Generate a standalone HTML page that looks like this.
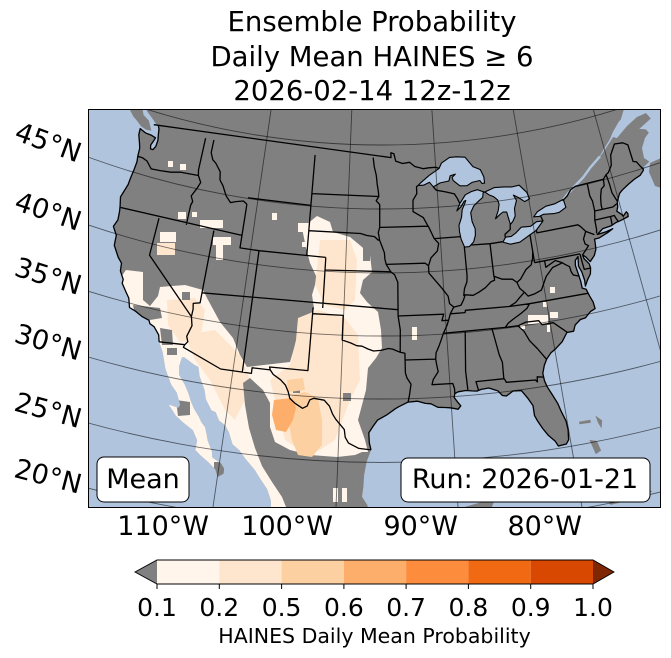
<!DOCTYPE html>
<html><head><meta charset="utf-8"><style>
html,body{margin:0;padding:0;background:#fff;}
svg{display:block;font-family:"DejaVu Sans","Liberation Sans",sans-serif;}
</style></head><body>
<svg width="671" height="658" viewBox="0 0 671 658" xmlns="http://www.w3.org/2000/svg">
<defs>
<clipPath id="ax"><rect x="88" y="109" width="573" height="399"/></clipPath>
<clipPath id="landc"><path id="landclip" d=""/></clipPath>
</defs>
<!-- title -->
<g font-size="27.5" text-anchor="middle" fill="#000">
<text x="372" y="31">Ensemble Probability</text>
<text x="372" y="66">Daily Mean HAINES ≥ 6</text>
<text x="372" y="100">2026-02-14 12z-12z</text>
</g>
<g clip-path="url(#ax)">
<rect x="88" y="109" width="573" height="399" fill="#b0c4de"/>
<path id="land" d="" fill="#808080"/>
<polygon fill="#b0c4de" points="624,109 661,109 661,160 650,162 644,158 642,148 645,138 650,131 652,120 646,113 637,117 627,126 617,138 613,137 620,122"/>
<polygon fill="#808080" points="650,163 661,158 661,188 655,186 649,172"/>
<g clip-path="url(#landc)">
 <polygon fill="#fff5eb" points="100,300 110,292 126,270 143,272 143,300 150,306 158,296 160,287 185,285 203,290 207,298 220,322 233,338 240,355 247,367 290,362 295,345 300,333 310,322 314,308 312,295 317,278 310,263 306,248 302,228 317,216 330,222 333,232 350,237 362,247 370,255 372,272 363,280 360,293 367,302 378,312 381,330 382,348 376,358 368,368 366,390 362,405 358,420 365,440 370,460 380,470 380,515 200,515 100,420"/>
 <g fill="#fee6ce">
  <polygon points="320,240 350,240 357,260 355,300 345,310 325,305 315,285 318,260"/>
  <polygon points="298,318 318,310 345,318 358,335 360,380 350,400 335,440 320,450 300,450 285,440 275,400 270,380 290,365 296,340"/>
  <polygon points="185,335 215,330 240,355 250,380 245,400 235,420 225,410 210,380 195,360"/>
  <polygon points="167,300 195,298 205,310 200,340 180,342 168,325"/>
  <rect x="157" y="243" width="18" height="12"/>
 </g>
 <g fill="#808080">
  <polygon points="243,383 250,378 263,390 270,403 270,427 275,442 290,450 310,455 337,457 355,455 362,452 380,452 380,512 288,512 282,497 272,482 262,466 255,448 249,428 245,405"/>
  <polygon points="133,305 160,308 162,318 150,320 135,315"/>
  <polygon points="160,328 172,330 173,345 162,345"/>
  <polygon points="167,348 177,348 177,355 167,355"/>
  <polygon points="176,400 190,402 190,415 178,416"/>
  <rect x="214" y="462" width="10" height="16"/>
  <rect x="343" y="393" width="8" height="8"/>
  <rect x="293" y="386" width="7" height="7"/>
  <rect x="363" y="247" width="7" height="14"/>
  <rect x="182" y="292" width="8" height="8"/>
 </g>
 <g fill="#fdd0a2">
  <polygon points="292,395 305,392 318,398 322,420 322,445 312,457 298,455 292,440 288,420"/>
  <polygon points="287,380 303,378 305,390 288,392"/>
 </g>
 <polygon fill="#fdae6b" points="274,400 292,398 296,408 293,420 286,432 276,430 272,415"/>
 <g fill="#fff5eb">
  <rect x="168" y="161" width="5" height="6"/>
  <rect x="180" y="164" width="6" height="6"/>
  <rect x="178" y="212" width="8" height="7"/>
  <rect x="192" y="212" width="5" height="5"/>
  <rect x="200" y="220" width="23" height="8"/>
  <rect x="272" y="213" width="5" height="7"/>
  <rect x="160" y="232" width="16" height="10"/>
  <rect x="213" y="237" width="18" height="8"/>
  <rect x="216" y="245" width="7" height="15"/>
  <rect x="298" y="223" width="10" height="9"/>
  <rect x="302" y="242" width="5" height="5"/>
  <rect x="412" y="327" width="5" height="13"/>
  <rect x="550" y="287" width="5" height="6"/>
  <rect x="543" y="302" width="4" height="5"/>
  <rect x="528" y="315" width="20" height="9"/>
  <rect x="550" y="312" width="8" height="6"/>
  <rect x="520" y="325" width="5" height="4"/>
  <rect x="547" y="325" width="3" height="7"/>
  <rect x="333" y="488" width="5" height="14"/>
  <rect x="342" y="488" width="5" height="14"/>
 </g>
</g>
<path id="river" d="" fill="none" stroke="#b0c4de" stroke-width="2.5"/>
<path id="lakes" d="" fill="#b0c4de" stroke="#000" stroke-width="1.1" stroke-linejoin="round"/>
<path id="borders" d="" fill="none" stroke="#000" stroke-width="1.3" stroke-linejoin="round"/>
<g fill="none" stroke="#000" stroke-opacity="0.55" stroke-width="0.9">
 <circle cx="382" cy="-649" r="794"/>
 <circle cx="382" cy="-649" r="858"/>
 <circle cx="382" cy="-649" r="922"/>
 <circle cx="382" cy="-649" r="985"/>
 <circle cx="382" cy="-649" r="1048"/>
 <circle cx="382" cy="-649" r="1111.5"/>
 <circle cx="382" cy="-649" r="1174.5"/>
 <line x1="382" y1="-649" x2="213" y2="507"/>
 <line x1="382" y1="-649" x2="336" y2="507"/>
 <line x1="382" y1="-649" x2="458" y2="507"/>
 <line x1="382" y1="-649" x2="582" y2="507"/>
 <line x1="382" y1="-649" x2="704" y2="507"/>
</g>
<rect x="97" y="457" width="92" height="45" rx="7" fill="#fff" stroke="#000" stroke-width="1"/>
<text x="143" y="488" font-size="27" text-anchor="middle">Mean</text>
<rect x="401" y="458" width="249" height="44" rx="7" fill="#fff" stroke="#000" stroke-width="1"/>
<text x="525" y="488" font-size="27" text-anchor="middle">Run: 2026-01-21</text>
</g>
<rect x="88.5" y="109.5" width="572" height="398" fill="none" stroke="#000" stroke-width="1"/>
<!-- lat labels -->
<g font-size="27" text-anchor="middle" dominant-baseline="central">
<text transform="translate(48,143) rotate(20)">45°N</text>
<text transform="translate(48,212) rotate(18.6)">40°N</text>
<text transform="translate(48,277) rotate(17)">35°N</text>
<text transform="translate(48,343) rotate(16.3)">30°N</text>
<text transform="translate(48,411) rotate(15.3)">25°N</text>
<text transform="translate(48,477) rotate(14.5)">20°N</text>
</g>
<g font-size="27" text-anchor="end">
<text x="209" y="535">110°W</text>
<text x="333" y="535">100°W</text>
<text x="458" y="535">90°W</text>
<text x="582" y="535">80°W</text>
</g>
<!-- colorbar -->
<polygon points="157,560 135,572 157,584" fill="#808080"/>
<rect x="157" y="560" width="62.3" height="24" fill="#fff5eb"/>
<rect x="219.3" y="560" width="62.3" height="24" fill="#fee6ce"/>
<rect x="281.6" y="560" width="62.3" height="24" fill="#fdd0a2"/>
<rect x="343.9" y="560" width="62.3" height="24" fill="#fdae6b"/>
<rect x="406.1" y="560" width="62.3" height="24" fill="#fd8d3c"/>
<rect x="468.4" y="560" width="62.3" height="24" fill="#f16913"/>
<rect x="530.7" y="560" width="62.3" height="24" fill="#d94801"/>
<polygon points="593,560 614,572 593,584" fill="#7f2704"/>
<polygon points="157,560 593,560 614,572 593,584 157,584 135,572" fill="none" stroke="#000" stroke-width="0.9"/>
<g stroke="#000" stroke-width="1">
<line x1="157" y1="584" x2="157" y2="589"/><line x1="219.3" y1="584" x2="219.3" y2="589"/>
<line x1="281.6" y1="584" x2="281.6" y2="589"/><line x1="343.9" y1="584" x2="343.9" y2="589"/>
<line x1="406.1" y1="584" x2="406.1" y2="589"/><line x1="468.4" y1="584" x2="468.4" y2="589"/>
<line x1="530.7" y1="584" x2="530.7" y2="589"/><line x1="593" y1="584" x2="593" y2="589"/>
</g>
<g font-size="25" text-anchor="middle">
<text x="157" y="616">0.1</text><text x="219.3" y="616">0.2</text><text x="281.6" y="616">0.5</text>
<text x="343.9" y="616">0.6</text><text x="406.1" y="616">0.7</text><text x="468.4" y="616">0.8</text>
<text x="530.7" y="616">0.9</text><text x="593" y="616">1.0</text>
</g>
<text x="374.5" y="643" font-size="20.5" text-anchor="middle">HAINES Daily Mean Probability</text>
</svg>
<script>
(function(){
function P(lon,lat){var r=794+12.68*(50-lat);var t=0.606*(lon+96.2)*Math.PI/180;return [382+r*Math.sin(t),-649+r*Math.cos(t)];}
function D(pts,close){var s='';for(var i=0;i<pts.length;i++){var q=P(pts[i][0],pts[i][1]);s+=(i?'L':'M')+q[0].toFixed(1)+' '+q[1].toFixed(1);}return s+(close?'Z':'');}
var CAN_W=[[-140,62],[-135,58],[-131,55],[-130,54],[-128.5,52.5],[-127.8,51.5],[-126.5,50.8],[-125.3,50.3],[-124.4,49.8],[-123.6,49.4],[-123.1,49.1],[-122.9,49.0]];
var US_W=[[-122.76,49.0],[-122.6,48.8],[-122.5,48.4],[-122.35,47.9],[-122.4,47.4],[-122.6,47.1],[-122.9,47.1],[-123.0,47.4],[-122.8,47.8],[-122.7,48.05],[-123.2,48.15],[-124.0,48.2],[-124.7,48.4],[-124.65,47.9],[-124.3,47.3],[-124.1,46.9],[-124.05,46.3],[-123.95,45.8],[-124.0,45.2],[-124.1,44.5],[-124.15,43.9],[-124.4,43.2],[-124.55,42.8],[-124.3,42.1],[-124.2,41.7],[-124.1,41.0],[-124.35,40.4],[-123.8,39.8],[-123.7,39.0],[-123.0,38.2],[-122.5,37.8],[-122.4,37.2],[-121.9,36.6],[-121.9,36.3],[-121.3,35.7],[-120.9,35.3],[-120.6,34.6],[-120.0,34.45],[-119.2,34.15],[-118.5,34.0],[-118.35,33.75],[-117.9,33.6],[-117.3,33.05],[-117.12,32.53]];
var MEX_W=[[-116.6,31.8],[-116.05,30.6],[-115.7,30.1],[-115.2,29.4],[-114.6,28.9],[-114.1,28.0],[-114.2,27.75],[-115.1,27.85],[-114.6,27.4],[-114.3,27.1],[-113.6,26.7],[-112.6,26.2],[-112.1,25.5],[-112.1,24.7],[-111.6,24.35],[-110.9,23.95],[-110.2,23.45],[-109.9,22.88],[-109.45,23.2],[-109.45,23.6],[-109.8,24.0],[-110.3,24.2],[-110.6,24.35],[-110.7,24.8],[-111.2,25.6],[-111.35,26.0],[-111.6,26.6],[-112.0,26.95],[-112.3,27.35],[-112.8,27.85],[-113.2,28.4],[-113.55,29.0],[-114.0,29.6],[-114.7,30.3],[-114.85,31.0],[-114.75,31.7],[-114.55,31.75],[-113.5,31.3],[-113.1,31.2],[-112.85,30.5],[-112.2,29.5],[-111.95,28.8],[-111.3,28.0],[-110.9,27.9],[-110.5,27.3],[-109.9,27.0],[-109.5,26.5],[-109.05,25.6],[-108.4,25.2],[-107.8,24.6],[-106.9,23.8],[-106.4,23.2],[-105.7,22.4],[-105.3,21.5],[-105.25,20.6],[-105.5,20.3],[-105.0,19.5],[-104.3,19.05],[-103.5,18.3],[-102.2,17.95],[-101.0,17.2],[-99.9,16.85],[-97,15.8],[-94.5,16.2],[-92.5,14.7],[-91,13.9],[-88,13],[-84,10],[-83,8.5],[-82,9.5],[-83.5,11],[-83.4,15],[-85,16],[-88,16],[-88.3,18.5],[-87.5,20.5],[-87,21.5],[-88,21.5],[-90.3,21.05],[-90.5,19.8],[-91.5,18.6],[-92.5,18.6],[-94.4,18.15],[-95.2,18.7],[-96.1,19.2],[-96.4,19.8],[-97.0,20.5],[-97.3,21.0],[-97.4,21.6],[-97.85,22.25],[-97.75,23.0],[-97.7,24.0],[-97.5,25.0],[-97.15,25.95]];
var US_E=[[-97.15,25.95],[-97.3,26.5],[-97.35,27.3],[-97.0,27.8],[-96.6,28.3],[-95.8,28.7],[-95.0,29.2],[-94.7,29.35],[-93.85,29.7],[-93.0,29.75],[-92.3,29.55],[-91.8,29.5],[-91.2,29.2],[-90.6,29.15],[-90.1,29.1],[-89.4,28.95],[-89.15,29.2],[-89.4,29.5],[-89.7,29.9],[-89.6,30.2],[-89.3,30.32],[-88.6,30.37],[-88.05,30.3],[-87.6,30.25],[-87.2,30.35],[-86.5,30.4],[-85.7,30.1],[-85.35,29.7],[-85.0,29.62],[-84.35,29.95],[-83.6,29.9],[-83.1,29.2],[-82.75,28.6],[-82.75,27.8],[-82.55,27.35],[-82.2,26.7],[-81.8,26.1],[-81.3,25.55],[-81.1,25.15],[-80.4,25.2],[-80.15,25.5],[-80.05,26.3],[-80.1,27.0],[-80.4,27.9],[-80.55,28.45],[-80.9,29.2],[-81.25,29.9],[-81.4,30.4],[-81.45,31.0],[-81.2,31.6],[-80.9,32.05],[-80.4,32.5],[-79.9,32.75],[-79.2,33.2],[-78.6,33.85],[-77.95,33.85],[-77.7,34.3],[-77.1,34.65],[-76.6,34.7],[-76.0,35.1],[-75.5,35.25],[-75.55,35.8],[-75.75,36.3],[-75.95,36.9],[-76.3,37.05],[-76.3,37.6],[-76.4,38.3],[-76.5,38.9],[-76.4,39.3],[-76.05,39.55],[-76.2,38.8],[-76.0,38.3],[-75.9,37.6],[-75.95,37.15],[-75.6,37.6],[-75.2,38.0],[-75.05,38.45],[-75.1,38.8],[-75.5,39.3],[-75.55,39.6],[-75.3,39.4],[-74.95,38.95],[-74.4,39.35],[-74.1,39.8],[-74.0,40.4],[-74.0,40.6],[-73.5,40.6],[-72.5,40.85],[-71.9,41.05],[-72.6,40.95],[-73.6,40.9],[-72.9,41.25],[-72.0,41.3],[-71.4,41.45],[-70.95,41.5],[-70.6,41.55],[-70.0,41.65],[-69.95,41.9],[-70.05,42.05],[-70.5,41.78],[-70.6,41.95],[-71.0,42.3],[-70.8,42.6],[-70.7,43.0],[-70.2,43.6],[-69.8,43.8],[-69.0,44.1],[-68.2,44.35],[-67.5,44.5],[-67.0,44.8],[-66.95,45.0]];
var CAN_E=[[-66.1,45.3],[-65.2,45.55],[-64.6,45.8],[-64.3,45.85],[-64.5,45.4],[-64.9,45.35],[-65.8,44.9],[-66.2,44.4],[-66.1,43.8],[-65.5,43.5],[-64.6,44.0],[-63.6,44.5],[-62.5,44.8],[-61.2,45.2],[-61.0,45.6],[-60.0,45.9],[-60.3,46.9],[-60.6,47.0],[-61.4,46.2],[-62.0,45.8],[-63.0,45.75],[-63.8,46.0],[-64.5,46.2],[-64.8,47.0],[-65.3,47.8],[-66.0,48.0],[-65.5,48.15],[-64.3,48.5],[-64.2,48.9],[-64.5,49.1],[-65.5,49.25],[-66.5,49.15],[-67.5,48.9],[-68.5,48.4],[-69.5,47.8],[-70.5,47.2],[-71.2,46.8],[-71.15,46.9],[-70.4,47.4],[-69.6,47.9],[-69.0,48.4],[-68.0,49.05],[-67.0,49.4],[-66.0,50.2],[-64.0,50.25],[-61.0,50.2],[-59.0,50.3],[-57.0,51.5],[-55.5,52.5],[-58,58],[-70,62],[-100,64]];
var VI=[[-128.4,50.8],[-127.2,50.6],[-126.0,50.4],[-125.2,50.0],[-124.8,49.5],[-124.0,49.2],[-123.4,48.5],[-124.0,48.45],[-124.7,48.6],[-125.3,48.9],[-125.9,49.15],[-126.6,49.6],[-127.5,50.1]];
var CUBA=[[-84.95,21.86],[-84.0,22.7],[-82.5,23.1],[-81.0,23.1],[-79.5,22.5],[-77.5,21.7],[-75.5,20.7],[-74.15,20.2],[-75.5,19.9],[-77.7,19.85],[-78.5,21.5],[-80.5,22.0],[-82.0,22.3],[-83.5,22.0]];
var BAH=[[[-79.0,26.75],[-78.0,26.75],[-78.0,26.5],[-79.0,26.55]],[[-77.5,27.0],[-77.0,26.5],[-77.2,25.9],[-77.4,26.4]],[[-78.4,25.2],[-77.8,25.0],[-77.6,24.2],[-78.1,24.0]]];
var land=[].concat(CAN_W,US_W,MEX_W,US_E,CAN_E);
var ld=D(land,true)+D(VI,true)+D(CUBA,true);
for(var i=0;i<BAH.length;i++)ld+=D(BAH[i],true);
document.getElementById('land').setAttribute('d',ld);
document.getElementById('landclip').setAttribute('d',ld);
var SUP=[[-92.1,46.75],[-91.8,46.95],[-90.8,47.5],[-89.6,48.0],[-89.3,48.4],[-88.3,48.8],[-87.5,48.8],[-86.5,48.7],[-85.7,47.9],[-84.9,47.6],[-84.6,47.0],[-84.6,46.5],[-84.9,46.5],[-85.1,46.75],[-86.0,46.67],[-86.6,46.45],[-87.4,46.5],[-88.1,46.95],[-88.2,47.2],[-87.8,47.45],[-88.4,47.35],[-88.6,46.95],[-89.6,46.85],[-90.4,46.58],[-90.8,46.95],[-91.5,46.75]];
var MICH=[[-84.75,45.8],[-85.5,46.05],[-86.2,45.95],[-86.9,45.75],[-87.6,45.1],[-88.0,44.55],[-87.5,44.85],[-87.1,45.25],[-86.9,45.3],[-87.1,45.0],[-87.4,44.6],[-87.55,44.0],[-87.9,43.4],[-87.9,42.9],[-87.8,42.3],[-87.6,41.85],[-87.5,41.65],[-87.0,41.65],[-86.5,42.0],[-86.25,42.5],[-86.2,43.0],[-86.45,43.6],[-86.5,44.3],[-86.1,44.8],[-85.6,45.1],[-85.0,45.4],[-84.9,45.75]];
var HUR=[[-84.7,45.8],[-83.6,46.05],[-82.5,46.0],[-81.6,45.9],[-80.8,45.95],[-80.1,45.3],[-79.9,44.75],[-80.5,44.6],[-81.1,45.0],[-81.6,45.25],[-81.35,44.8],[-81.7,44.2],[-81.75,43.6],[-82.1,43.2],[-82.4,43.0],[-82.5,43.5],[-82.6,44.0],[-83.0,44.05],[-83.35,43.9],[-83.9,43.6],[-83.5,44.2],[-83.3,44.7],[-83.4,45.05],[-83.8,45.35],[-84.3,45.55]];
var ERIE=[[-83.45,41.7],[-82.7,41.45],[-81.7,41.5],[-80.5,41.95],[-79.8,42.2],[-78.9,42.85],[-79.6,42.88],[-80.3,42.6],[-81.3,42.65],[-82.0,42.25],[-82.5,42.05],[-83.1,42.05]];
var ONT=[[-79.8,43.3],[-79.3,43.65],[-78.3,43.95],[-77.3,44.0],[-76.3,44.2],[-76.2,43.55],[-77.0,43.27],[-77.6,43.25],[-78.7,43.35],[-79.2,43.25]];
document.getElementById('lakes').setAttribute('d',D(SUP,true)+D(MICH,true)+D(HUR,true)+D(ERIE,true)+D(ONT,true));
document.getElementById('river').setAttribute('d',D([[-76.3,44.2],[-75.6,44.6],[-74.8,45.0],[-73.6,45.55],[-72.6,46.15],[-71.2,46.82]],false));
var L=[
US_W,US_E,
[[-123.32,49.0],[-95.15,49.0],[-95.15,49.38],[-94.8,49.3],[-94.6,48.72],[-93.8,48.52],[-93.0,48.6],[-92.4,48.25],[-91.4,48.05],[-90.8,48.1],[-90.0,48.1],[-89.6,48.0]],
[[-82.42,43.0],[-82.5,42.6],[-83.1,42.3],[-83.15,42.05]],
[[-78.9,42.85],[-79.05,43.25]],
[[-76.4,44.1],[-75.8,44.4],[-75.3,44.8],[-74.7,45.0],[-71.5,45.01],[-71.08,45.3],[-70.8,45.4],[-70.25,45.9],[-70.0,46.7],[-69.25,47.45],[-68.3,47.35],[-67.8,47.07],[-67.8,45.7],[-67.45,45.6],[-67.2,45.2],[-66.98,44.9]],
[[-117.12,32.53],[-114.72,32.72],[-114.8,32.5],[-111.07,31.33],[-108.21,31.33],[-108.21,31.78],[-106.53,31.78],[-106.2,31.45],[-105.5,31.1],[-105.0,30.7],[-104.7,30.2],[-104.5,29.7],[-104.0,29.35],[-103.3,29.0],[-102.9,29.2],[-102.7,29.7],[-102.35,29.85],[-101.4,29.75],[-100.9,29.3],[-100.6,28.7],[-100.3,28.3],[-99.5,27.5],[-99.4,26.9],[-99.1,26.45],[-98.2,26.05],[-97.15,25.95]],
[[-124.0,46.25],[-123.5,46.25],[-122.9,46.1],[-122.2,45.6],[-121.2,45.65],[-120.0,45.75],[-119.0,45.93],[-116.92,46.0]],
[[-117.04,49.0],[-117.04,46.43],[-116.92,46.0]],
[[-116.92,46.0],[-116.5,45.5],[-116.75,45.0],[-117.2,44.3],[-116.9,43.9],[-117.03,43.6],[-117.03,42.0]],
[[-124.2,42.0],[-111.05,42.0]],
[[-120.0,42.0],[-120.0,39.0],[-114.63,35.0]],
[[-114.63,35.0],[-114.6,35.6],[-114.7,36.05],[-114.05,36.2],[-114.05,42.0]],
[[-114.63,35.0],[-114.4,34.3],[-114.7,33.4],[-114.5,33.0],[-114.72,32.72]],
[[-114.05,37.0],[-94.62,37.0]],
[[-109.05,41.0],[-109.05,31.33]],
[[-111.05,44.5],[-111.05,41.0],[-109.05,41.0]],
[[-109.05,41.0],[-102.05,41.0]],
[[-102.05,41.0],[-102.05,37.0]],
[[-102.05,40.0],[-95.3,40.0]],
[[-103.0,37.0],[-103.06,32.0],[-106.62,32.0],[-106.53,31.78]],
[[-103.0,36.5],[-100.0,36.5],[-100.0,34.56],[-99.2,34.35],[-98.6,34.15],[-98.1,34.12],[-97.5,33.9],[-97.0,33.75],[-96.3,33.8],[-95.6,33.95],[-95.2,33.9],[-94.48,33.64]],
[[-94.48,33.64],[-94.04,33.55],[-94.04,32.0],[-93.9,31.6],[-93.55,31.1],[-93.7,30.3],[-93.85,29.7]],
[[-95.3,40.0],[-94.9,39.75],[-94.6,39.15],[-94.62,36.5],[-94.43,35.4],[-94.48,33.64]],
[[-116.05,49.0],[-116.05,47.98],[-115.7,47.45],[-115.3,47.25],[-114.6,46.65],[-114.45,46.0],[-114.0,45.6],[-113.45,44.87],[-112.85,44.4],[-112.3,44.55],[-111.48,44.7],[-111.05,44.5]],
[[-111.05,45.0],[-104.05,45.0]],
[[-104.05,49.0],[-104.05,41.0]],
[[-104.05,45.94],[-96.56,45.94]],
[[-104.05,43.0],[-98.5,43.0],[-97.8,42.85],[-97.0,42.77],[-96.6,42.5],[-96.45,42.49]],
[[-97.23,49.0],[-97.1,48.3],[-96.85,47.6],[-96.75,46.9],[-96.6,46.3],[-96.56,45.94],[-96.85,45.6],[-96.45,45.3],[-96.45,43.5]],
[[-96.45,43.5],[-96.6,43.1],[-96.45,42.49]],
[[-96.45,42.49],[-96.2,42.0],[-95.95,41.5],[-95.9,41.0],[-95.77,40.58],[-95.3,40.0]],
[[-96.45,43.5],[-91.22,43.5]],
[[-95.77,40.58],[-91.73,40.6],[-91.4,40.38]],
[[-94.62,36.5],[-90.15,36.5],[-90.37,36.0],[-89.71,36.0]],
[[-94.04,33.02],[-91.17,33.0]],
[[-91.17,33.0],[-91.1,32.5],[-91.0,32.0],[-91.5,31.4],[-91.63,31.0],[-89.73,31.0],[-89.6,30.6],[-89.6,30.2]],
[[-91.17,33.0],[-91.1,33.5],[-90.8,34.0],[-90.55,34.5],[-90.3,35.0],[-89.9,35.6],[-89.71,36.0],[-89.5,36.5]],
[[-90.3,35.0],[-84.32,35.0]],
[[-88.2,35.0],[-88.47,31.9],[-88.4,30.4]],
[[-85.6,35.0],[-85.2,32.9],[-85.0,32.3],[-85.05,31.0]],
[[-87.45,30.3],[-87.6,31.0],[-85.0,31.0]],
[[-85.0,31.0],[-84.86,30.7],[-82.2,30.57],[-82.05,30.4],[-82.0,30.8],[-81.45,30.7]],
[[-89.5,36.5],[-88.05,36.5],[-88.0,36.68],[-83.68,36.6],[-81.68,36.59]],
[[-81.68,36.59],[-82.0,36.25],[-82.6,35.95],[-83.5,35.55],[-84.0,35.3],[-84.32,35.0]],
[[-81.68,36.59],[-75.87,36.55]],
[[-83.68,36.6],[-83.0,36.85],[-82.6,37.15],[-82.0,37.55]],
[[-82.0,37.55],[-82.4,37.9],[-82.6,38.4]],
[[-82.0,37.55],[-81.7,37.2],[-81.0,37.3],[-80.3,37.5],[-79.6,38.5],[-78.8,39.1],[-77.8,39.3]],
[[-83.1,35.0],[-82.3,35.2],[-81.05,35.15],[-80.8,34.8],[-79.7,34.8],[-78.55,33.85]],
[[-83.1,35.0],[-82.6,34.5],[-82.2,33.7],[-81.6,33.0],[-80.9,32.05]],
[[-84.32,35.0],[-83.1,35.0]],
[[-89.1,37.0],[-88.4,37.1],[-88.1,37.5],[-87.9,37.9],[-87.1,37.8],[-86.5,38.0],[-85.8,38.3],[-85.2,38.7],[-84.8,38.8],[-84.8,39.1],[-84.0,38.8],[-83.0,38.7],[-82.6,38.4]],
[[-89.5,36.5],[-89.2,36.9],[-89.1,37.0]],
[[-89.1,37.0],[-89.5,37.3],[-89.6,37.9],[-90.2,38.6],[-90.6,39.0],[-91.4,39.8],[-91.4,40.38],[-91.1,41.0],[-90.4,41.5],[-90.2,42.1],[-90.65,42.5]],
[[-90.65,42.5],[-91.2,43.5]],
[[-90.65,42.5],[-87.8,42.5]],
[[-91.22,43.5],[-91.7,44.2],[-92.8,44.7],[-92.75,45.6],[-92.3,46.1],[-92.3,46.65],[-92.1,46.75]],
[[-90.4,46.57],[-90.1,46.3],[-89.0,46.1],[-88.1,45.9],[-87.8,45.5],[-87.6,45.1]],
[[-87.53,41.7],[-87.53,39.35],[-87.6,38.9],[-87.9,38.4],[-88.05,37.82]],
[[-86.8,41.76],[-84.8,41.7],[-83.45,41.73]],
[[-84.82,41.7],[-84.82,39.1]],
[[-80.52,41.98],[-80.52,39.72]],
[[-80.52,40.64],[-80.65,40.1],[-80.9,39.6],[-81.5,39.3],[-81.8,39.0],[-82.2,38.6],[-82.6,38.4]],
[[-79.76,42.27],[-79.76,42.0],[-75.35,42.0],[-75.1,41.8],[-74.7,41.35]],
[[-74.7,41.35],[-73.9,40.95]],
[[-74.7,41.35],[-75.1,40.8],[-75.05,40.4],[-74.75,40.2],[-75.15,39.9],[-75.55,39.6]],
[[-80.52,39.72],[-75.79,39.72]],
[[-79.48,39.72],[-79.48,39.21],[-78.4,39.6],[-77.8,39.35],[-77.5,39.15],[-77.1,38.9],[-77.05,38.5],[-76.9,38.2],[-76.3,38.0]],
[[-75.79,39.72],[-75.75,39.0],[-75.7,38.45],[-75.05,38.45]],
[[-73.35,45.01],[-73.4,44.0],[-73.25,43.55],[-73.28,42.75]],
[[-73.28,42.75],[-73.5,42.05],[-73.55,41.3],[-73.65,41.0]],
[[-71.5,45.01],[-71.6,44.5],[-72.0,44.3],[-72.3,43.7],[-72.45,43.1],[-72.46,42.73]],
[[-73.28,42.75],[-72.46,42.73],[-71.3,42.7],[-70.8,42.87]],
[[-73.5,42.05],[-71.8,42.02],[-71.38,42.02],[-71.3,41.8],[-71.15,41.5]],
[[-71.8,42.02],[-71.85,41.33]],
[[-71.08,45.3],[-71.0,44.5],[-70.98,43.8],[-70.7,43.1]]
];
var bd='';for(var k=0;k<L.length;k++)bd+=D(L[k],false);
document.getElementById('borders').setAttribute('d',bd);
})();
</script>
</body></html>
